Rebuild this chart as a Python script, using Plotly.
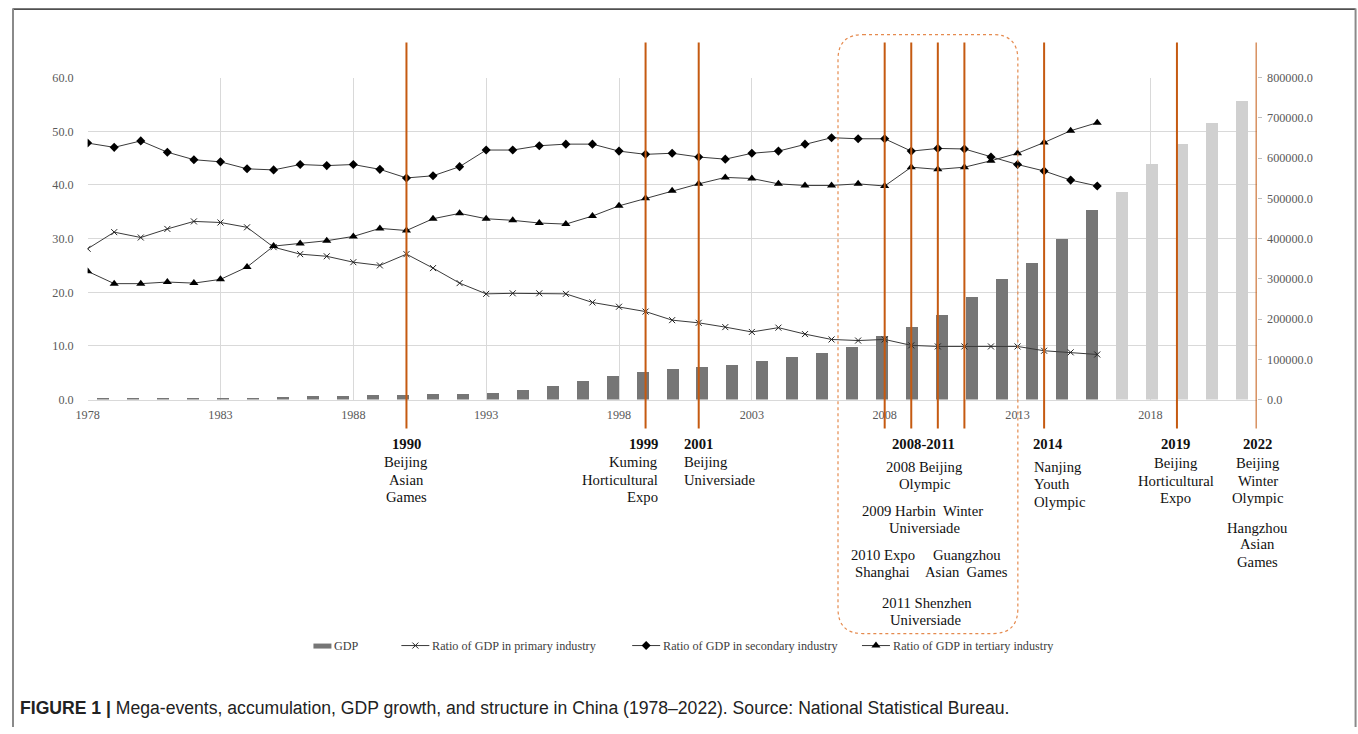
import plotly.graph_objects as go

W, H = 1358, 734
# calibration of the capture: picture = A + B * page pixel (measured from earlier renders)
AX, BX = 10.3, 0.992
AY, BY = 6.4, 0.981
# plot area in reference-picture pixels
X0, X1, YT, YB = 86, 1256, 77, 399

years = list(range(1978, 2017))
primary = [28.1, 31.2, 30.2, 31.8, 33.2, 33.0, 32.1, 28.4, 27.1, 26.7, 25.6, 25.0, 27.1, 24.5, 21.7,
           19.7, 19.8, 19.8, 19.7, 18.1, 17.3, 16.4, 14.8, 14.3, 13.5, 12.6, 13.4, 12.2, 11.2, 11.0,
           11.2, 10.1, 9.9, 9.9, 9.9, 9.9, 9.1, 8.8, 8.4]
secondary = [47.8, 47.0, 48.2, 46.1, 44.7, 44.3, 43.0, 42.8, 43.8, 43.6, 43.8, 42.9, 41.3, 41.7, 43.4,
             46.5, 46.5, 47.3, 47.6, 47.6, 46.3, 45.7, 45.9, 45.2, 44.8, 45.9, 46.3, 47.6, 48.8, 48.6,
             48.6, 46.3, 46.8, 46.7, 45.2, 43.8, 42.6, 40.9, 39.8]
tertiary = [23.9, 21.6, 21.6, 21.9, 21.7, 22.4, 24.7, 28.6, 29.1, 29.6, 30.4, 31.9, 31.5, 33.7, 34.7,
            33.7, 33.4, 32.9, 32.7, 34.2, 36.1, 37.5, 38.9, 40.2, 41.4, 41.2, 40.2, 39.9, 39.9, 40.2,
            39.8, 43.3, 42.9, 43.3, 44.5, 45.9, 47.9, 50.1, 51.6]
gdp = [3600, 4000, 4500, 4900, 5300, 5900, 7100, 8900, 10100, 11800, 13000, 15000, 16000, 18500, 25700,
       34000, 46400, 58800, 69600, 76200, 82000, 87000, 96900, 107600, 117600, 132500, 158200, 182200,
       210400, 255900, 299800, 339600, 400800, 472100, 517600, 587200, 635200, 689000, 742900]
gdp_dark_last_year = 2011

left_ticks = [0, 10, 20, 30, 40, 50, 60]
right_ticks = [0, 100000, 200000, 300000, 400000, 500000, 600000, 700000, 800000]
x_ticks = [1978, 1983, 1988, 1993, 1998, 2003, 2008, 2013, 2018]
event_years = [1990, 1999, 2001, 2008, 2009, 2010, 2011, 2014, 2019, 2022]

# event labels: (text, x_px, y_px, anchor)
event_labels = [
    ("<b>1990</b>", 405, 443, "center"), ("Beijing", 405, 461.5, "center"),
    ("Asian", 405, 479, "center"), ("Games", 405, 496.5, "center"),
    ("<b>1999</b>", 659, 443, "right"), ("Kuming", 659, 461.5, "right"),
    ("Horticultural", 659, 479, "right"), ("Expo", 659, 496.5, "right"),
    ("<b>2001</b>", 681, 443, "left"), ("Beijing", 681, 461.5, "left"),
    ("Universiade", 681, 479, "left"),
    ("<b>2008-2011</b>", 923, 443, "center"),
    ("2008 Beijing", 924, 466.5, "center"), ("Olympic", 924, 483, "center"),
    ("2009 Harbin&nbsp; Winter", 922, 510, "center"), ("Universiade", 924, 527, "center"),
    ("2010 Expo", 882, 554, "center"), ("Shanghai", 882, 571, "center"),
    ("Guangzhou", 966, 554, "center"), ("Asian&nbsp; Games", 966, 571, "center"),
    ("2011 Shenzhen", 926, 602, "center"), ("Universiade", 925, 619, "center"),
    ("<b>2014</b>", 1030, 443, "left"), ("Nanjing", 1031, 466.5, "left"),
    ("Youth", 1031, 483.5, "left"), ("Olympic", 1031, 501, "left"),
    ("<b>2019</b>", 1175, 443, "center"), ("Beijing", 1175, 462.5, "center"),
    ("Horticultural", 1175, 480, "center"), ("Expo", 1175, 497, "center"),
    ("<b>2022</b>", 1257, 443, "center"), ("Beijing", 1257, 462.5, "center"),
    ("Winter", 1257, 480, "center"), ("Olympic", 1257, 497, "center"),
    ("Hangzhou", 1257, 527, "center"), ("Asian", 1257, 543.5, "center"),
    ("Games", 1257, 561, "center"),
]

legend_names = ["GDP", "Ratio of GDP in primary industry",
                "Ratio of GDP in secondary industry", "Ratio of GDP in tertiary industry"]
caption = ("<b>FIGURE 1 |</b> Mega-events, accumulation, GDP growth, and structure in China "
           "(1978–2022). Source: National Statistical Bureau.")

SERIF = "Liberation Serif, Times New Roman, serif"
SANS = "Liberation Sans, Arial, sans-serif"
LINE_C = "#3a3a3a"
EVENT_C = "#C55A11"
DARK, LIGHT = "#767676", "#D0D0D0"


def pxx(x):
    return ((x - AX) / BX) / W


def pxy(y):
    return 1 - ((y - AY) / BY) / H


fig = go.Figure()

# GDP bars (own category axis)
fig.add_trace(go.Bar(
    x=[str(y) for y in years], y=gdp, xaxis="x", yaxis="y", width=0.4,
    marker=dict(color=[DARK if y <= gdp_dark_last_year else LIGHT for y in years], line=dict(width=0)),
    name=legend_names[0]))

line_styles = [
    (primary, dict(symbol="x-thin", size=6, line=dict(width=1, color="#222"), color="#222")),
    (secondary, dict(symbol="diamond", size=7, color="#000")),
    (tertiary, dict(symbol="triangle-up", size=8, color="#000")),
]
for (vals, mk), nm in zip(line_styles, legend_names[1:]):
    fig.add_trace(go.Scatter(x=years, y=vals, xaxis="x2", yaxis="y2", mode="lines+markers",
                             line=dict(color=LINE_C, width=1), marker=mk, name=nm))

# manual legend on pixel overlay axes (x3/y3 are in reference-picture pixels)
LY = 645
fig.add_shape(type="rect", xref="x3", yref="y3", x0=312, x1=330, y0=643, y1=648,
              fillcolor=DARK, line=dict(width=0))
leg_pos = [400, 631, 861]
leg_marks = [dict(symbol="x-thin", size=6, line=dict(width=1, color="#222")),
             dict(symbol="diamond", size=7, color="#000"),
             dict(symbol="triangle-up", size=8, color="#000")]
for sx, mk in zip(leg_pos, leg_marks):
    fig.add_trace(go.Scatter(x=[sx, sx + 14, sx + 28], y=[LY, LY, LY], xaxis="x3", yaxis="y3",
                             mode="lines", line=dict(color=LINE_C, width=1), hoverinfo="skip"))
    fig.add_trace(go.Scatter(x=[sx + 14], y=[LY], xaxis="x3", yaxis="y3", mode="markers",
                             marker=mk, hoverinfo="skip"))
leg_text_x = [331, 429, 660, 890]
for nm, tx in zip(legend_names, leg_text_x):
    fig.add_annotation(text=nm, x=pxx(tx), y=pxy(LY), xref="paper", yref="paper",
                       xanchor="left", yanchor="middle", showarrow=False,
                       font=dict(family=SERIF, size=12.2, color="#404040"))

# event vertical lines
for ey in event_years:
    fig.add_shape(type="line", xref="x2", yref="y3", x0=ey, x1=ey, y0=42, y1=428,
                  line=dict(color=EVENT_C, width=2))

# rounded dotted box
bx0, bx1, by0, by1, r = 837, 1017, 34, 633, 25
path = (f"M {bx0 + r},{by0} L {bx1 - r},{by0} Q {bx1},{by0} {bx1},{by0 + r} "
        f"L {bx1},{by1 - r} Q {bx1},{by1} {bx1 - r},{by1} L {bx0 + r},{by1} "
        f"Q {bx0},{by1} {bx0},{by1 - r} L {bx0},{by0 + r} Q {bx0},{by0} {bx0 + r},{by0} Z")
fig.add_shape(type="path", xref="x3", yref="y3", path=path,
              line=dict(color="#E58A4E", width=1.2, dash="dot"))

# outer frame
fig.add_shape(type="line", xref="x3", yref="y3", x0=11, x1=1355, y0=8.5, y1=8.5,
              line=dict(color="#505050", width=1.6))
fig.add_shape(type="line", xref="x3", yref="y3", x0=11.3, x1=11.3, y0=8, y1=740,
              line=dict(color="#8a8a8a", width=2))
fig.add_shape(type="line", xref="x3", yref="y3", x0=1355, x1=1355, y0=8, y1=740,
              line=dict(color="#8a8a8a", width=2))

for txt, x, y, anc in event_labels:
    fig.add_annotation(text=txt, x=pxx(x), y=pxy(y), xref="paper", yref="paper",
                       xanchor=anc, yanchor="middle", align=anc, showarrow=False,
                       font=dict(family=SERIF, size=14.7, color="#111"))

fig.add_annotation(text=caption, x=pxx(16), y=pxy(707), xref="paper", yref="paper",
                   xanchor="left", yanchor="middle", showarrow=False,
                   font=dict(family=SANS, size=17.6, color="#222"))

tickfont = dict(family=SERIF, size=12.2, color="#595959")
fig.update_layout(
    width=W, height=H, showlegend=False, bargap=0,
    margin=dict(l=0, r=0, t=0, b=0, pad=0),
    paper_bgcolor="white", plot_bgcolor="rgba(0,0,0,0)",
    xaxis=dict(type="category", range=[-0.5, 38.5], domain=[pxx(X0), pxx(X1)], visible=False,
               anchor="y"),
    yaxis=dict(range=[0, 800000], domain=[pxy(YB), pxy(YT)], side="right", anchor="x",
               tickvals=right_ticks, tickformat=".1f", showgrid=False, zeroline=False,
               ticks="outside", ticklen=4, tickcolor="#BFBFBF", tickfont=tickfont,
               ticklabelstandoff=3),
    xaxis2=dict(overlaying="x", anchor="y2", range=[1978, 2022], tickvals=x_ticks,
                showgrid=True, gridcolor="#D9D9D9", gridwidth=1, showline=True,
                linecolor="#D9D9D9", zeroline=False, tickfont=tickfont, ticklabelstandoff=4),
    yaxis2=dict(overlaying="y", side="left", anchor="x2", range=[0, 60], tickvals=left_ticks,
                tickformat=".1f", showgrid=True, gridcolor="#D9D9D9", gridwidth=1,
                zeroline=False, tickfont=tickfont, ticklabelstandoff=13),
    xaxis3=dict(domain=[0, 1], range=[AX, AX + BX * W], visible=False, anchor="y3",
                fixedrange=True),
    yaxis3=dict(domain=[0, 1], range=[AY + BY * H, AY], visible=False, anchor="x3",
                fixedrange=True),
)

fig.write_html("out.html", config={"displayModeBar": False},
               post_script="document.body.style.margin='0px';document.body.style.overflow='hidden';")
